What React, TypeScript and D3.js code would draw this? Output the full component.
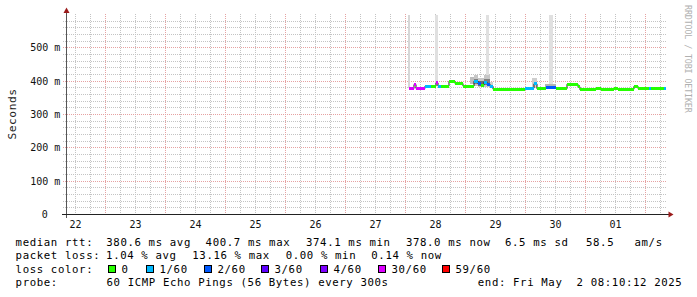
import React from "react";
import * as d3 from "d3";

// ---------- data ----------
const START = "2025-04-22T08:10:12";
const END = "2025-05-02T08:10:12";

// median rtt step series: boundaries (N+1), values in ms (N), lost pings (N)
const medianTimes = [
  "2025-04-28T01:22", "2025-04-28T03:22", "2025-04-28T04:10", "2025-04-28T07:46", "2025-04-28T10:10",
  "2025-04-28T12:10", "2025-04-28T12:58", "2025-04-28T14:10", "2025-04-28T17:22", "2025-04-28T19:46",
  "2025-04-28T22:58", "2025-04-29T03:22", "2025-04-29T04:58", "2025-04-29T06:10", "2025-04-29T07:22",
  "2025-04-29T08:34", "2025-04-29T09:46", "2025-04-29T10:58", "2025-04-29T17:46", "2025-04-29T18:58",
  "2025-04-29T23:46", "2025-04-30T03:22", "2025-04-30T04:34", "2025-04-30T08:10", "2025-04-30T12:10",
  "2025-04-30T16:34", "2025-04-30T20:58", "2025-04-30T21:46", "2025-05-01T00:10", "2025-05-01T04:10",
  "2025-05-01T06:10", "2025-05-01T11:22", "2025-05-01T12:58", "2025-05-01T19:22", "2025-05-01T20:58",
  "2025-05-02T01:22", "2025-05-02T02:10", "2025-05-02T07:22", "2025-05-02T08:10",
];
const medianMs = [
  378, 390, 378, 385, 385, 395, 385, 385, 400, 393,
  385, 400, 392, 388, 397, 391, 385, 376, 374, 376,
  379, 392, 377, 380, 377, 391, 383, 374, 376, 378,
  376, 378, 376, 385, 378, 378, 378, 378,
];
const lostPings = [
  30, 30, 30, 1, 0, 30, 1, 0, 0, 0,
  0, 1, 2, 0, 1, 2, 1, 0, 0, 0,
  1, 1, 0, 2, 0, 0, 0, 0, 0, 0,
  0, 0, 0, 0, 0, 1, 0, 1,
];

// smoke bands: start, end, low ms, high ms, number of pings in band
const smokeStart = [
  "2025-04-28T00:58", "2025-04-28T11:46", "2025-04-29T08:10", "2025-04-30T09:22",
  "2025-04-29T01:46", "2025-04-29T03:22", "2025-04-29T04:58", "2025-04-29T07:22", "2025-04-29T09:46",
  "2025-04-29T23:46", "2025-04-30T02:34", "2025-04-30T07:46",
  "2025-04-29T03:22", "2025-04-29T04:58", "2025-04-29T07:22",
];
const smokeEnd = [
  "2025-04-28T01:46", "2025-04-28T12:58", "2025-04-29T09:22", "2025-04-30T10:58",
  "2025-04-29T03:22", "2025-04-29T04:58", "2025-04-29T07:22", "2025-04-29T09:46", "2025-04-29T10:58",
  "2025-04-30T02:34", "2025-04-30T04:34", "2025-04-30T12:10",
  "2025-04-29T04:58", "2025-04-29T07:22", "2025-04-29T09:46",
];
const smokeLowMs = [380, 386, 392, 381, 392, 385, 383, 384, 380, 377, 380, 378, 392, 386, 390];
const smokeHighMs = [600, 600, 600, 600, 412, 418, 410, 418, 398, 384, 410, 392, 408, 402, 408];
const smokePings = [2, 1, 1, 1, 5, 4, 4, 4, 3, 4, 3, 6, 12, 14, 12];

const yTickValues = [0, 0.1, 0.2, 0.3, 0.4, 0.5];
const yTickLabels = ["0", "100 m", "200 m", "300 m", "400 m", "500 m"];

const lossThresholds = [0, 1, 2, 3, 4, 30, 59];
const lossLabels = ["0", "1/60", "2/60", "3/60", "4/60", "30/60", "59/60"];
const lossColors = ["#26ff00", "#00b8ff", "#0059ff", "#5e00ff", "#7e00ff", "#dd00ff", "#ff0000"];

const medianStats = ["380.6 ms avg", "400.7 ms max", "374.1 ms min", "378.0 ms now", "6.5 ms sd", "58.5", "am/s"];
const lossStats = ["1.04 % avg", "13.16 % max", "0.00 % min", "0.14 % now"];
const probeText = "60 ICMP Echo Pings (56 Bytes) every 300s";
const endText = "end: Fri May  2 08:10:12 2025";

// ---------- layout ----------
const W = 697, H = 297;
const PL = 66, PR = 666, PT = 14.5, PB = 214.5;
const medianStatX = [106.3, 205.6, 306, 405.9, 505, 586, 634.5];
const lossStatX = [106.1, 192.3, 285.7, 371.3];
const boxX = [108.5, 146.5, 204.5, 261.5, 320.5, 378.5, 442.5];
const LEG_FS = 10.7, LEG_LS = 0.62;
const rows = [246, 259.3, 272.6, 286];

const crisp = (v: number) => Math.floor(v) + 0.5;

export default function App() {
  const parse = d3.utcParse("%Y-%m-%dT%H:%M");
  const parseS = d3.utcParse("%Y-%m-%dT%H:%M:%S");
  const t0 = parseS(START)!, t1 = parseS(END)!;
  const x = d3.scaleUtc().domain([t0, t1]).range([PL, PR]);
  const y = d3.scaleLinear().domain([0, 0.6]).range([PB, PT]);

  const mt = medianTimes.map((s) => parse(s)!);
  const lossColor = (l: number) => {
    let idx = 0;
    lossThresholds.forEach((t, i) => { if (l >= t) idx = i; });
    return lossColors[idx];
  };
  const gray = d3.scaleLinear<string>().domain([1, 14]).range(["#e0e0e0", "#6e6e6e"]).clamp(true);

  const minorY = d3.range(1, 30).filter((i) => i % 5 !== 0).map((i) => i * 0.02);
  const majorY = d3.range(1, 6).map((i) => i * 0.1);
  const vTimes = d3.utcHour.every(6)!.range(t0, t1);
  const noons = d3.utcDay.range(d3.utcDay.floor(t0), t1).map((d) => d3.utcHour.offset(d, 12)).filter((d) => d >= t0 && d <= t1);
  const dayFmt = d3.utcFormat("%d");

  const linePts: [Date, number][] = medianMs.map((v, i) => [mt[i], v / 1000]);
  linePts.push([mt[mt.length - 1], medianMs[medianMs.length - 1] / 1000]);
  const medLine = d3.line<[Date, number]>().x((d) => x(d[0])).y((d) => y(d[1])).curve(d3.curveStepAfter);

  const smokeIdx = d3.range(smokeStart.length).sort((a, b) => smokePings[a] - smokePings[b]);

  const legendText = (s: string, xx: number, yy: number, key?: string) => (
    <text key={key} x={xx} y={yy} fontSize={LEG_FS} letterSpacing={LEG_LS} fill="#000" style={{ whiteSpace: "pre" }}>{s}</text>
  );

  return (
    <svg width={W} height={H} style={{ position: "absolute", left: 0, top: 0 }} fontFamily="'DejaVu Sans Mono', monospace">
      <rect width={W} height={H} fill="#fff" />
      {/* minor grid */}
      <g stroke="#c4c4c4" strokeWidth={1} strokeDasharray="1,1" shapeRendering="crispEdges">
        {minorY.map((v, i) => (
          <line key={"mh" + i} x1={63} x2={PR + 1} y1={crisp(y(v))} y2={crisp(y(v))} />
        ))}
        {vTimes.filter((t) => t.getUTCHours() !== 0).map((t, i) => (
          <line key={"mv" + i} x1={crisp(x(t))} x2={crisp(x(t))} y1={PT - 1} y2={PB} />
        ))}
      </g>
      {/* major grid */}
      <g stroke="#e6a2a2" strokeWidth={1} strokeDasharray="1,1" shapeRendering="crispEdges">
        {majorY.map((v, i) => (
          <line key={"Mh" + i} x1={63} x2={PR + 1} y1={crisp(y(v))} y2={crisp(y(v))} />
        ))}
        {vTimes.filter((t) => t.getUTCHours() === 0).map((t, i) => (
          <line key={"Mv" + i} x1={crisp(x(t))} x2={crisp(x(t))} y1={PT - 1} y2={PB} />
        ))}
      </g>
      {/* smoke */}
      <g shapeRendering="crispEdges">
        {smokeIdx.map((i) => {
          const xa = x(parse(smokeStart[i])!), xb = x(parse(smokeEnd[i])!);
          const ya = y(smokeHighMs[i] / 1000), yb = y(smokeLowMs[i] / 1000);
          return <rect key={"s" + i} x={xa} width={xb - xa} y={ya} height={yb - ya} fill={gray(smokePings[i])} />;
        })}
      </g>
      {/* median */}
      <path d={medLine(linePts) || ""} fill="none" stroke="#202020" strokeWidth={1} />
      <g shapeRendering="crispEdges">
        {medianMs.map((v, i) => {
          const xa = x(mt[i]), xb = x(mt[i + 1]);
          return <rect key={"m" + i} x={xa} width={xb - xa} y={y(v / 1000) - 1.4} height={2.8} fill={lossColor(lostPings[i])} />;
        })}
      </g>
      {/* axes */}
      <line x1={66.5} x2={66.5} y1={12} y2={218} stroke="#555" strokeWidth={1} shapeRendering="crispEdges" />
      <line x1={62} x2={669} y1={PB} y2={PB} stroke="#222" strokeWidth={1} shapeRendering="crispEdges" />
      <polygon points="66.5,7.5 63.5,13 69.5,13" fill="#9b1b1b" />
      <polygon points="673.5,214.5 668.5,211.5 668.5,217.5" fill="#9b1b1b" />
      {/* y labels */}
      <g fontSize={10} fill="#111" textAnchor="end">
        {yTickValues.map((v, i) => (
          <text key={"yl" + i} x={v === 0 ? 47.8 : 60.3} y={y(v) + 3.6} style={{ whiteSpace: "pre" }}>{yTickLabels[i]}</text>
        ))}
      </g>
      {/* x labels */}
      <g fontSize={10} fill="#111" textAnchor="middle">
        {noons.map((d, i) => (
          <text key={"xl" + i} x={x(d)} y={227.5}>{dayFmt(d)}</text>
        ))}
      </g>
      {/* y title */}
      <text transform="translate(15.5,114) rotate(-90)" textAnchor="middle" fontSize={11.3} letterSpacing={0.5} fill="#222">Seconds</text>
      {/* watermark */}
      <text transform="translate(685,5) rotate(90)" fontSize={8.4} letterSpacing={-0.15} fill="#b0b0b0">RRDTOOL / TOBI OETIKER</text>
      {/* legend */}
      {legendText("median rtt:", 15.6, rows[0], "l1")}
      {medianStats.map((s, i) => legendText(s, medianStatX[i], rows[0], "ms" + i))}
      {legendText("packet loss:", 15.6, rows[1], "l2")}
      {lossStats.map((s, i) => legendText(s, lossStatX[i], rows[1], "ls" + i))}
      {legendText("loss color:", 15.6, rows[2], "l3")}
      {lossLabels.map((s, i) => (
        <g key={"lc" + i}>
          <rect x={boxX[i]} y={265.5} width={7} height={7} fill={lossColors[i]} stroke="#000" strokeWidth={1} shapeRendering="crispEdges" />
          {legendText(s, boxX[i] + 13, rows[2])}
        </g>
      ))}
      {legendText("probe:", 15.6, rows[3], "l4")}
      {legendText(probeText, 106.5, rows[3], "pt")}
      {legendText(endText, 477.8, rows[3], "et")}
    </svg>
  );
}
